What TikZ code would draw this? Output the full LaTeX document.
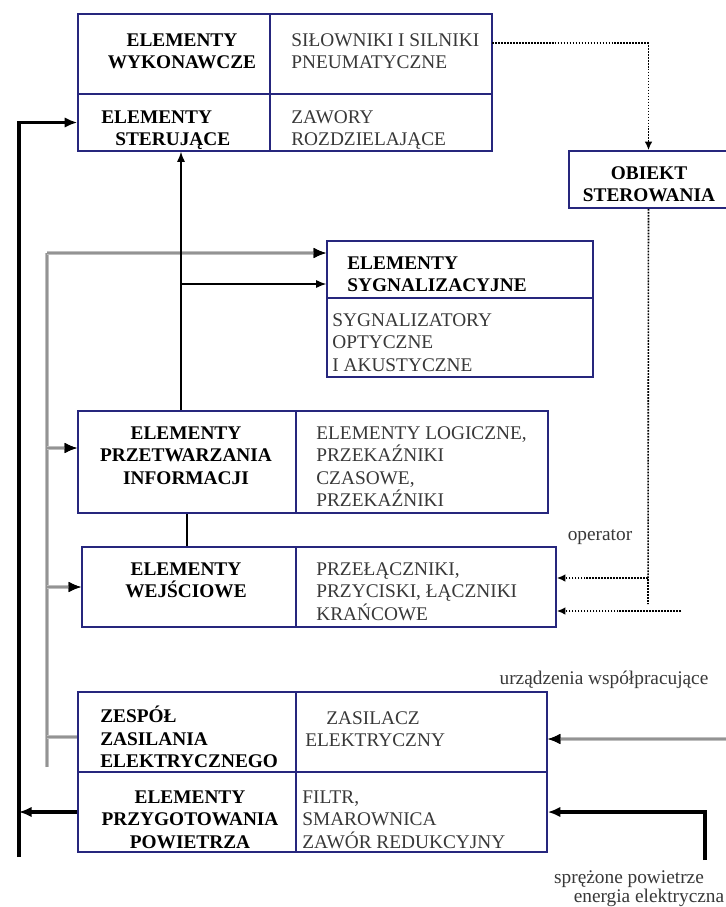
\documentclass[tikz,border=0pt]{standalone}
\usepackage{fontspec}
\setmainfont{Liberation Serif}
\usepackage{tikz}
\usetikzlibrary{arrows.meta,positioning,fit,calc}

\definecolor{boxblue}{RGB}{38,38,125}

\begin{document}
\begin{tikzpicture}[
  x=0.2mm, y=-0.2mm,
  font=\fontsize{11}{12.8}\selectfont,
  cell/.style={draw=boxblue,line width=0.9pt,inner sep=0pt},
  hd/.style={font=\fontsize{11}{12.8}\selectfont\bfseries,inner sep=0pt,align=center,anchor=north},
  hdl/.style={hd,align=left,anchor=north west},
  body/.style={text=black!78,inner sep=0pt,align=left,anchor=north west},
  lbl/.style={text=black!78,inner sep=0pt},
  mainline/.style={line width=1.9pt,-{Latex[length=2.5mm,width=2.1mm]}},
  busline/.style={draw=gray!85,line width=0.9pt,preaction={draw=gray!50,line width=2.8pt}},
  bustip/.style={-{Latex[color=black,length=2.5mm,width=2.1mm]}},
  sigline/.style={line width=0.7pt},
  sigtip/.style={-{Latex[length=2mm,width=1.6mm]}},
  ctlline/.style={line width=0.9pt,dash pattern=on 1pt off 0.7pt},
  ctltip/.style={-{Latex[length=1.7mm,width=1.5mm]}}
]
\fill[white] (0,0) rectangle (726,907);
\useasboundingbox (0,0) rectangle (726,907);

% Executive and control elements.
\node[cell,fit={(78,14) (270,94)}] (wyk) {};
\node[cell,fit={(270,14) (492,94)}] (silown) {};
\node[cell,fit={(78,94) (270,151)}] (ster) {};
\node[cell,fit={(270,94) (492,151)}] (zaw) {};
\node[hd] (tWyk) at (182,33) {ELEMENTY\\WYKONAWCZE};
\node[body] (tSilown) at (291,33) {SIŁOWNIKI I SILNIKI\\PNEUMATYCZNE};
\node[hdl] (tSter) at (101,110) {ELEMENTY\\\hspace*{2.8mm}STERUJĄCE};
\node[body] (tZaw) at (291,110) {ZAWORY\\ROZDZIELAJĄCE};

\node[cell,fit={(569,151) (728,208)}] (obiekt) {};
\node[hd] (tObiekt) at (649,166) {OBIEKT\\STEROWANIA};

% Signalling elements.
\node[cell,fit={(327,241) (593,298)}] (sygTop) {};
\node[cell,fit={(327,298) (593,377)}] (sygBot) {};
\node[hdl] (tSygTop) at (347,256) {ELEMENTY\\SYGNALIZACYJNE};
\node[body] (tSygBot) at (332,313) {SYGNALIZATORY\\OPTYCZNE\\I AKUSTYCZNE};

% Information processing and input elements.
\node[cell,fit={(78,411) (296,513)}] (przetw) {};
\node[cell,fit={(296,411) (548,513)}] (logic) {};
\node[hd] (tPrzetw) at (186,426) {ELEMENTY\\PRZETWARZANIA\\INFORMACJI};
\node[body] (tLogic) at (316,426) {ELEMENTY LOGICZNE,\\PRZEKAŹNIKI\\CZASOWE,\\PRZEKAŹNIKI};

\node[cell,fit={(82,547) (296,627)}] (wej) {};
\node[cell,fit={(296,547) (556,627)}] (przel) {};
\node[hd] (tWej) at (186,562) {ELEMENTY\\WEJŚCIOWE};
\node[body] (tPrzel) at (316,562) {PRZEŁĄCZNIKI,\\PRZYCISKI, ŁĄCZNIKI\\KRAŃCOWE};

% Supply block.
\node[cell,fit={(78,692) (296,772)}] (zes) {};
\node[cell,fit={(296,692) (547,772)}] (zasil) {};
\node[cell,fit={(78,772) (296,852)}] (prz) {};
\node[cell,fit={(296,772) (547,852)}] (filtr) {};
\node[hdl] (tZes) at (100,706) {ZESPÓŁ\\ZASILANIA\\ELEKTRYCZNEGO};
\node[body] (tZasil) at (305,711) {\hspace*{4.2mm}ZASILACZ\\ELEKTRYCZNY};
\node[hd] (tPrz) at (190,790) {ELEMENTY\\PRZYGOTOWANIA\\POWIETRZA};
\node[body] (tFiltr) at (302,790) {FILTR,\\SMAROWNICA\\ZAWÓR REDUKCYJNY};

\node[lbl] (lOperator) at (600,537) {operator};
\node[lbl] (lUrz) at (604,680) {urządzenia współpracujące};
\node[lbl] (lAir) at (629,879) {sprężone powietrze};
\node[lbl] (lEl) at (649,898) {energia elektryczna};

% Connectors.
\coordinate (mainBot) at (19,857);
\coordinate (airIn) at (705,860);
\draw[mainline] (mainBot) |- (ster.west);
\draw[mainline] (prz.west) -- (prz.west -| mainBot);
\draw[mainline] (airIn) |- (filtr.east);

\coordinate (busTop) at (47,253);
\coordinate (busBot) at (47,767);
\coordinate (busP) at (47,448);
\coordinate (busZ) at (47,737);
\coordinate (elIn) at (735,739);
\draw[busline] (busBot) -- (busTop);
\draw[busline,bustip] (busTop) -- (busTop -| sygTop.west);
\draw[busline,bustip] (busP) -- (busP -| przetw.west);
\draw[busline,bustip] (wej.west -| busTop) -- (wej.west);
\draw[busline] (busZ -| zes.west) -- (busZ);
\draw[busline,bustip] (elIn) -- (elIn -| zasil.east);

\coordinate (sigX) at (181,284);
\draw[sigline,sigtip] (przetw.north -| sigX) -- (ster.south -| sigX);
\draw[sigline,sigtip] (sigX) -- (sigX -| sygTop.west);
\draw[line width=1.1pt] (przetw.south) -- (przetw.south |- wej.north);

\coordinate (ctlOut) at (492,43);
\coordinate (opJoin) at (648,604);
\coordinate (opIn) at (648,578);
\coordinate (devIn) at (681,611);
\draw[ctlline,ctltip] (ctlOut) -| (obiekt.north);
\draw[ctlline] (obiekt.south) -- (opJoin);
\draw[ctlline,ctltip] (opIn) -- (opIn -| przel.east);
\draw[ctlline,ctltip] (devIn) -- (devIn -| przel.east);
\end{tikzpicture}
\end{document}
